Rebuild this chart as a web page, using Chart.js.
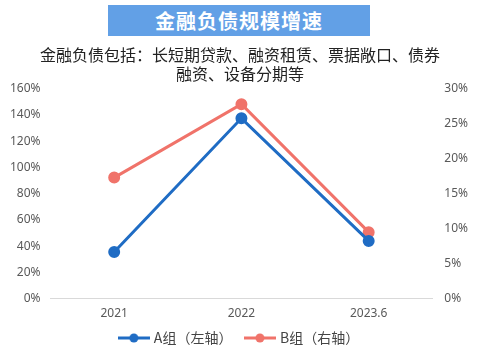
<!DOCTYPE html>
<html>
<head>
<meta charset="utf-8">
<script src="https://cdn.jsdelivr.net/npm/chart.js@4.4.0/dist/chart.umd.min.js"></script>
<style>
  body { margin: 0; background: #fff; }
  #wrap { position: relative; width: 480px; height: 359px; }
  #head {
    position: absolute; left: 108px; top: 5px; width: 262px; height: 31px;
    background: #62a0e6; color: #fff; font: bold 20px "Noto Sans CJK SC", sans-serif;
    text-align: center; line-height: 31px; letter-spacing: 1px;
  }
</style>
</head>
<body>
<div id="wrap">
  <canvas id="chart" width="480" height="359"></canvas>
  <div id="head">金融负债规模增速</div>
</div>
<script>
const categories = ["2021", "2022", "2023.6"];
const groupA = [35.5, 137.5, 44];
const groupB = [17.3, 27.8, 9.5];
const leftTicks = [0, 20, 40, 60, 80, 100, 120, 140, 160];
const rightTicks = [0, 5, 10, 15, 20, 25, 30];

const blue = "#1f6cc4";
const red = "#f0736a";

// legend marker: short line with a dot in the middle
function legendIcon(color) {
  const c = document.createElement("canvas");
  c.width = 32; c.height = 10;
  const ctx = c.getContext("2d");
  ctx.strokeStyle = color; ctx.lineWidth = 3;
  ctx.beginPath(); ctx.moveTo(0, 5); ctx.lineTo(32, 5); ctx.stroke();
  ctx.fillStyle = color;
  ctx.beginPath(); ctx.arc(16, 5, 4.5, 0, Math.PI * 2); ctx.fill();
  return c;
}

const tickFont = { family: "'Noto Sans', sans-serif", size: 12 };

new Chart(document.getElementById("chart").getContext("2d"), {
  type: "line",
  data: {
    labels: categories,
    datasets: [
      {
        label: "A组（左轴）",
        data: groupA,
        yAxisID: "y",
        borderColor: blue,
        backgroundColor: blue,
        borderWidth: 3,
        pointRadius: 4.5,
        pointStyle: "circle",
        fill: false,
        tension: 0,
      },
      {
        label: "B组（右轴）",
        data: groupB,
        yAxisID: "y1",
        borderColor: red,
        backgroundColor: red,
        borderWidth: 3,
        pointRadius: 4.5,
        pointStyle: "circle",
        fill: false,
        tension: 0,
      },
    ],
  },
  options: {
    responsive: false,
    animation: false,
    layout: { padding: { top: 46, left: 0, right: 0, bottom: 4 } },
    plugins: {
      title: {
        display: true,
        text: ["金融负债包括：长短期贷款、融资租赁、票据敞口、债券", "融资、设备分期等"],
        color: "#222",
        font: { family: "'Noto Sans CJK SC', sans-serif", size: 16, weight: "normal", lineHeight: 1.15 },
        padding: { top: 0, bottom: 6 },
      },
      legend: {
        position: "bottom",
        labels: {
          usePointStyle: true,
          pointStyleWidth: 26,
          color: "#444",
          font: { family: "'Noto Sans CJK SC', sans-serif", size: 14 },
          padding: 2,
          // extra spaces after the first entry keep the two items apart
          generateLabels: (chart) =>
            chart.data.datasets.map((ds, i) => ({
              text: i === 0 ? ds.label + "    " : ds.label,
              pointStyle: legendIcon(ds.borderColor),
              fillStyle: ds.borderColor,
              strokeStyle: ds.borderColor,
              lineWidth: 0,
              fontColor: "#444",
              datasetIndex: i,
            })),
        },
      },
      tooltip: { enabled: false },
    },
    scales: {
      x: {
        offset: true,
        grid: { display: false, drawTicks: false },
        border: { color: "#d9d9d9" },
        ticks: { color: "#595959", font: tickFont, padding: 8 },
      },
      y: {
        position: "left",
        min: 0,
        max: 160,
        afterBuildTicks: (axis) => { axis.ticks = leftTicks.map((v) => ({ value: v })); },
        grid: { display: false, drawTicks: false },
        border: { display: false },
        ticks: { color: "#595959", font: tickFont, padding: 10, callback: (v) => v + "%" },
      },
      y1: {
        position: "right",
        min: 0,
        max: 30,
        afterBuildTicks: (axis) => { axis.ticks = rightTicks.map((v) => ({ value: v })); },
        grid: { display: false, drawTicks: false },
        border: { display: false },
        ticks: { color: "#595959", font: tickFont, padding: 12, callback: (v) => v + "%" },
      },
    },
  },
});
</script>
</body>
</html>
